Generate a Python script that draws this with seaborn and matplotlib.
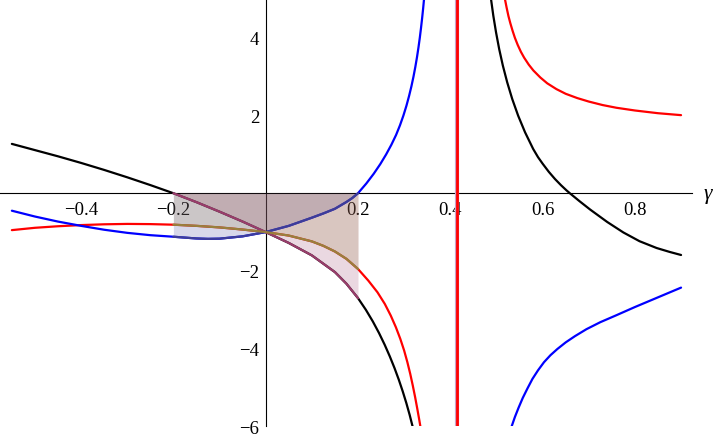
import matplotlib
matplotlib.use("Agg")
import matplotlib.pyplot as plt
import matplotlib.transforms as mtransforms
from matplotlib.ticker import FixedLocator, MultipleLocator
import numpy as np
import pandas as pd
import seaborn as sns

# ---------------- data ----------------
black_left_x = [-0.55, -0.5, -0.45, -0.4, -0.35, -0.3, -0.25, -0.2, -0.15, -0.1, -0.05, 0.0,
                0.05, 0.1, 0.15, 0.175, 0.2, 0.217, 0.2321, 0.2456, 0.2578, 0.2689, 0.2791,
                0.2884, 0.2969, 0.3047, 0.3118, 0.3182]
black_left_y = [1.27, 1.11, 0.95, 0.78, 0.6, 0.41, 0.21, 0.0, -0.23, -0.475, -0.73, -1.0,
                -1.28, -1.6, -2.03, -2.33, -2.7, -3.0, -3.3, -3.6, -3.9, -4.2, -4.5,
                -4.8, -5.1, -5.4, -5.7, -6.0]

red_left_x = [-0.55, -0.5, -0.45, -0.4, -0.35, -0.3, -0.25, -0.2, -0.15, -0.1, -0.05, 0.0,
              0.05, 0.1, 0.125, 0.15, 0.175, 0.2, 0.2224, 0.2422, 0.2581, 0.271, 0.2821, 0.2917,
              0.30, 0.307, 0.3132, 0.3187, 0.3238, 0.3285, 0.333, 0.3351]
red_left_y = [-0.95, -0.89, -0.85, -0.82, -0.80, -0.79, -0.795, -0.81, -0.84, -0.88, -0.935, -1.0,
              -1.09, -1.24, -1.355, -1.5, -1.69, -1.95, -2.25, -2.55, -2.85, -3.15, -3.45, -3.75,
              -4.05, -4.35, -4.65, -4.95, -5.25, -5.55, -5.85, -6.0]

blue_left_x = [-0.55, -0.5, -0.45, -0.4, -0.35, -0.3, -0.25, -0.2, -0.15, -0.125, -0.1, -0.05, 0.0,
               0.05, 0.1, 0.125, 0.15, 0.175, 0.1875, 0.2, 0.218, 0.234, 0.2483, 0.261, 0.2724,
               0.2825, 0.291, 0.2984, 0.3049, 0.3106, 0.3157, 0.3202, 0.3242, 0.3278, 0.331,
               0.3339, 0.3365, 0.3389, 0.3411, 0.3431]
blue_left_y = [-0.45, -0.6, -0.73, -0.84, -0.94, -1.02, -1.08, -1.12, -1.165, -1.175, -1.17, -1.11, -1.0,
               -0.84, -0.63, -0.52, -0.40, -0.225, -0.125, 0.0, 0.25, 0.5, 0.75, 1.0, 1.25,
               1.5, 1.75, 2.0, 2.25, 2.5, 2.75, 3.0, 3.25, 3.5, 3.75,
               4.0, 4.25, 4.5, 4.75, 5.0]

red_right_x = [0.5185, 0.522, 0.526, 0.53, 0.535, 0.54, 0.546, 0.553, 0.56, 0.57, 0.58, 0.595,
               0.61, 0.63, 0.65, 0.675, 0.7, 0.73, 0.76, 0.8, 0.85, 0.9]
red_right_y = [4.99, 4.78, 4.56, 4.38, 4.18, 4.0, 3.82, 3.64, 3.49, 3.31, 3.16, 2.98,
               2.83, 2.68, 2.56, 2.45, 2.36, 2.27, 2.2, 2.13, 2.06, 2.01]

black_right_x = [0.4882, 0.4932, 0.4991, 0.5059, 0.5139, 0.5233, 0.5342, 0.547, 0.562, 0.5796,
                 0.59, 0.6001, 0.6135, 0.6269, 0.64, 0.6521, 0.66, 0.68, 0.703, 0.74, 0.775,
                 0.81, 0.847, 0.875, 0.9]
black_right_y = [5.0, 4.571, 4.142, 3.713, 3.284, 2.855, 2.426, 1.997, 1.568, 1.139,
                 0.93, 0.76, 0.55, 0.365, 0.205, 0.07, -0.01, -0.205, -0.42, -0.74, -1.01,
                 -1.235, -1.41, -1.51, -1.59]

blue_right_x = [0.533, 0.54, 0.548, 0.557, 0.567, 0.578, 0.59, 0.603, 0.617, 0.632, 0.65, 0.67,
                0.695, 0.725, 0.76, 0.8, 0.85, 0.9]
blue_right_y = [-6.0, -5.76, -5.52, -5.27, -5.03, -4.78, -4.56, -4.35, -4.17, -4.01, -3.84, -3.68,
                -3.5, -3.32, -3.14, -2.93, -2.68, -2.43]

pole_x = 0.4142
shade_range = [-0.2, 0.2]

x_ticks = [-0.4, -0.2, 0.2, 0.4, 0.6, 0.8]
x_ticklabels = ["\u22120.4", "\u22120.2", "0.2", "0.4", "0.6", "0.8"]
y_ticks = [-6, -4, -2, 2, 4]
y_ticklabels = ["\u22126", "\u22124", "\u22122", "2", "4"]
x_range = [-0.5757, 0.9237]
y_range = [-6, 5]
axis_label = "\u03b3"

# ---------------- style ----------------
sns.set_theme(style="white")
plt.rcParams["font.family"] = ["Liberation Serif", "DejaVu Serif"]
plt.rcParams["font.serif"] = ["Liberation Serif", "DejaVu Serif"]
plt.rcParams["axes.unicode_minus"] = True

fig = plt.figure(figsize=(7.2, 4.39), dpi=100)
ax = fig.add_axes([0.0, 0.02665, 0.9611, 0.97335])
ax.set_facecolor("white")

LW = 1.6
main = [
    (black_left_x, black_left_y, "#000000"),
    (black_right_x, black_right_y, "#000000"),
    (red_left_x, red_left_y, "#ff0000"),
    (red_right_x, red_right_y, "#ff0000"),
    (blue_left_x, blue_left_y, "#0000ff"),
    (blue_right_x, blue_right_y, "#0000ff"),
]
for xs, ys, c in main:
    df = pd.DataFrame({"g": xs, "v": ys})
    sns.lineplot(data=df, x="g", y="v", color=c, linewidth=LW, ax=ax,
                 sort=False, estimator=None, legend=False, zorder=3)

# vertical red line at the pole
ax.axvline(pole_x, color="#c9a3c6", linewidth=3.0, zorder=3)
ax.axvline(pole_x, color="#ff0000", linewidth=2.0, zorder=4)

# shaded region overlay (Mathematica default palette)
overlay = [
    (blue_left_x, blue_left_y, (0.24, 0.24, 0.6)),
    (black_left_x, black_left_y, (0.6, 0.24, 0.42)),
    (red_left_x, red_left_y, (0.6, 0.5, 0.24)),
]
for xs, ys, c in overlay:
    xs = np.asarray(xs)
    ys = np.asarray(ys)
    m = (xs >= shade_range[0] - 1e-9) & (xs <= shade_range[1] + 1e-9)
    ax.fill_between(xs[m], 0, ys[m], color=c, alpha=0.2, linewidth=0, zorder=4)
for xs, ys, c in overlay:
    xs = np.asarray(xs)
    ys = np.asarray(ys)
    m = (xs >= shade_range[0] - 1e-9) & (xs <= shade_range[1] + 1e-9)
    df = pd.DataFrame({"g": xs[m], "v": ys[m]})
    sns.lineplot(data=df, x="g", y="v", color=c, linewidth=LW, ax=ax,
                 sort=False, estimator=None, legend=False, zorder=5)

# ---------------- axes ----------------
ax.set_xlim(*x_range)
ax.set_ylim(*y_range)
ax.set_xlabel("")
ax.set_ylabel("")
for s in ["top", "right"]:
    ax.spines[s].set_visible(False)
ax.spines["left"].set_position(("data", 0))
ax.spines["bottom"].set_position(("data", 0))
for s in ["left", "bottom"]:
    ax.spines[s].set_color("#000000")
    ax.spines[s].set_linewidth(0.8)
    ax.spines[s].set_zorder(2)

ax.xaxis.set_major_locator(FixedLocator(x_ticks))
ax.set_xticklabels(x_ticklabels, fontfamily="Liberation Serif")
ax.yaxis.set_major_locator(FixedLocator(y_ticks))
ax.set_yticklabels(y_ticklabels, fontfamily="Liberation Serif")
ax.xaxis.set_minor_locator(MultipleLocator(0.05))
ax.yaxis.set_minor_locator(MultipleLocator(0.5))

ax.tick_params(axis="both", which="both", direction="in", color="#000000",
               width=0.7, labelsize=13.5, labelcolor="#000000")
ax.tick_params(axis="both", which="major", length=3.2)
ax.tick_params(axis="both", which="minor", length=1.9)
ax.tick_params(axis="x", which="major", pad=5.5)
ax.tick_params(axis="y", which="major", pad=4.5)
ax.grid(False)

trans = mtransforms.blended_transform_factory(ax.transAxes, ax.transData)
ax.text(1.017, 0, axis_label, transform=trans, ha="left", va="center",
        fontsize=15.5, fontstyle="italic", family="Liberation Serif",
        color="#000000", clip_on=False)

fig.savefig("out.png", dpi=100, facecolor="white")
